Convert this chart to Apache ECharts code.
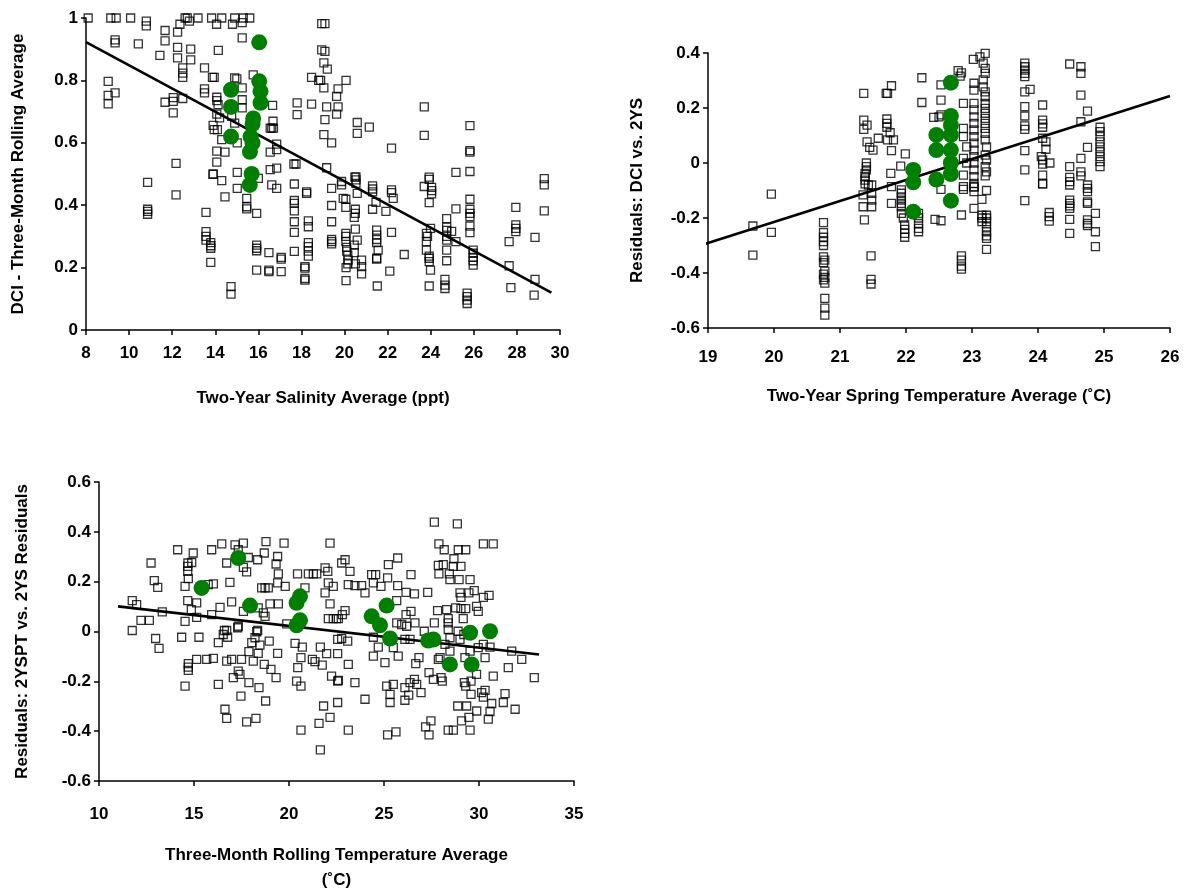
<!DOCTYPE html>
<html><head><meta charset="utf-8">
<script src="https://cdn.jsdelivr.net/npm/echarts@6/dist/echarts.min.js"></script>
<style>html,body{margin:0;padding:0;background:#fff}#c{width:1185px;height:894px}</style>
</head><body><div id="c"></div>
<script>
// ---------- Panel 1: DCI vs two-year salinity ----------
const p1Squares = [[8.1,1],[9.15,1],[9.4,1],[10.07,1],[10.8,0.99],[10.8,0.975],[12.6,1],[12.7,1],[13.2,1],[13.83,1],[14.3,1],[14.9,1],[15.3,1],[15.6,1],
[12.36,0.98],[12.8,0.99],[14.06,0.98],[14.8,0.98],[15.25,0.985],[11.67,0.96],[12.25,0.955],[9.35,0.93],[9.35,0.92],[10.43,0.917],[11.67,0.927],[15.25,0.936],
[12.25,0.906],[12.86,0.9],[11.43,0.88],[12.25,0.872],[12.86,0.866],[14.14,0.896],[13.5,0.84],[12.49,0.84],[12.49,0.823],[12.49,0.81],[13.87,0.81],[13.95,0.81],[14.9,0.808],[15.0,0.805],[15.76,0.818],[18.47,0.81],[18.8,0.8],[9.03,0.797],[9.35,0.76],[9.03,0.752],[9.03,0.725],[15.25,0.776],[13.5,0.773],[13.5,0.76],[11.67,0.73],[12.05,0.745],[12.05,0.733],[12.49,0.742],[14.07,0.746],[14.07,0.735],[14.13,0.722],[15.25,0.738],[15.25,0.712],[16.66,0.72],[17.8,0.728],[18.47,0.724],[17.8,0.69],[12.05,0.696],[14.07,0.692],[14.2,0.68],[14.76,0.685],[13.9,0.656],[13.95,0.642],[14.1,0.642],[14.9,0.663],[14.3,0.61],[15.02,0.6],[16.68,0.669],[16.55,0.647],[16.62,0.647],[16.7,0.647],[16.85,0.596],[16.85,0.578],[16.55,0.57],[14.07,0.573],[14.45,0.57],[14.07,0.538],[12.18,0.534],[13.9,0.5],[15.02,0.505],[16.55,0.514],[16.85,0.519],[17.65,0.532],[17.75,0.532],
[18.94,0.982],[19.09,0.982],[18.94,0.898],[19.09,0.893],[19.04,0.856],[19.2,0.836],[18.89,0.8],[20.07,0.8],[19.04,0.776],[19.7,0.773],[19.63,0.749],[19.17,0.715],[19.7,0.715],[19.63,0.692],[19.09,0.674],[20.59,0.665],[21.15,0.65],[20.59,0.63],[19.04,0.626],[19.4,0.6],[22.18,0.583],[23.7,0.715],[23.7,0.624],[25.82,0.655],[25.82,0.575],[25.82,0.57],[19.17,0.52],[20.48,0.49],[23.93,0.49],[25.17,0.505],[25.82,0.508],[29.27,0.485],[29.27,0.465],
[10.86,0.473],[10.86,0.387],[10.86,0.38],[10.86,0.371],[12.18,0.433],[13.9,0.499],[14.3,0.479],[15.02,0.454],[14.45,0.427],[15.46,0.422],[15.46,0.395],[15.46,0.388],[15.92,0.374],[16.0,0.486],[16.62,0.465],[16.85,0.454],[17.67,0.468],[18.24,0.443],[18.24,0.438],[17.67,0.415],[17.67,0.406],[17.67,0.382],[17.67,0.347],[17.67,0.313],[18.32,0.35],[18.32,0.331],[13.57,0.377],[13.57,0.315],[13.57,0.3],[13.57,0.288],[13.79,0.28],[13.79,0.27],[13.79,0.262],[13.79,0.217],[14.73,0.139],[14.73,0.115],[15.92,0.272],[15.92,0.262],[15.92,0.254],[16.49,0.248],[17.06,0.233],[17.06,0.227],[17.67,0.252],[18.32,0.28],[18.32,0.267],[18.32,0.253],[18.32,0.237],[15.92,0.192],[16.49,0.192],[16.49,0.187],[17.06,0.187],[18.16,0.203],[18.16,0.198],[18.16,0.165],[18.16,0.16],
[20.53,0.491],[20.53,0.481],[20.53,0.47],[19.86,0.476],[19.86,0.465],[19.4,0.454],[20.59,0.438],[19.94,0.422],[20.06,0.419],[19.4,0.399],[20.06,0.393],[20.5,0.387],[20.5,0.374],[20.45,0.361],[19.4,0.347],[21.3,0.462],[21.3,0.452],[21.3,0.443],[21.46,0.409],[21.3,0.387],[22.18,0.449],[22.18,0.44],[22.26,0.422],[21.92,0.38],[23.93,0.483],[23.7,0.46],[24.04,0.457],[24.04,0.447],[24.04,0.436],[23.93,0.408],[25.82,0.419],[25.17,0.388],[25.82,0.387],[25.82,0.374],[25.82,0.363],[24.74,0.357],[25.82,0.333],[25.82,0.312],[27.95,0.393],[27.95,0.337],[27.95,0.326],[27.95,0.315],[29.27,0.382],[28.84,0.297],[27.64,0.283],[20.06,0.31],[20.06,0.3],[20.06,0.283],[20.5,0.323],[20.59,0.288],[19.4,0.29],[19.4,0.283],[19.4,0.276],[20.1,0.265],[20.1,0.253],[20.15,0.24],[20.17,0.224],[20.15,0.212],[20.45,0.272],[20.45,0.248],[20.79,0.224],[20.79,0.203],[20.79,0.18],[20.5,0.212],[20.07,0.2],[20.07,0.158],[21.49,0.32],[21.49,0.304],[21.49,0.29],[21.49,0.28],[21.56,0.256],[21.49,0.23],[21.49,0.227],[21.52,0.141],[22.18,0.313],[22.77,0.242],[22.1,0.189],[23.8,0.31],[23.85,0.3],[23.8,0.283],[23.8,0.256],[23.99,0.326],[23.93,0.237],[23.93,0.23],[23.93,0.219],[23.99,0.192],[23.93,0.141],[24.74,0.33],[24.74,0.319],[24.74,0.3],[24.74,0.288],[24.97,0.316],[24.74,0.256],[24.74,0.222],[25.17,0.283],[24.66,0.162],[24.66,0.144],[24.66,0.133],[25.97,0.256],[25.97,0.246],[25.97,0.233],[25.97,0.222],[25.97,0.208],[25.69,0.118],[25.69,0.107],[25.69,0.096],[25.69,0.085],[27.64,0.206],[27.72,0.136],[28.84,0.162],[28.8,0.112]];
const p1Green = [[16.04,0.922],[14.73,0.77],[16.04,0.797],[16.1,0.765],[16.1,0.728],[14.73,0.715],[15.76,0.678],[15.73,0.66],[15.64,0.62],[14.73,0.62],[15.73,0.6],[15.61,0.571],[15.69,0.5],[15.6,0.465]];
const p1Trend = [[8,0.923],[29.6,0.12]];

// ---------- Panel 2: residuals vs spring temperature ----------
const p2Squares = [[21.36,0.253],[21.7,0.253],[21.72,0.253],[21.78,0.281],[21.36,0.156],[21.36,0.122],[21.41,0.138],[21.71,0.16],[21.71,0.144],[21.71,0.13],[21.76,0.11],[21.41,0.077],[21.45,0.057],[21.5,0.047],[21.58,0.09],[21.72,0.084],[21.81,0.084],[21.78,0.045],[21.99,0.033],[21.4,0],[21.4,-0.013],[21.4,-0.025],[21.38,-0.038],[21.38,-0.05],[21.38,-0.062],[21.38,-0.076],[21.43,-0.08],[21.48,-0.08],[21.77,-0.038],[21.92,-0.011],
[19.96,-0.113],[19.68,-0.229],[19.96,-0.252],[19.68,-0.335],[20.75,-0.217],[20.75,-0.253],[20.75,-0.27],[20.75,-0.286],[20.75,-0.3],[20.75,-0.341],[20.77,-0.353],[20.75,-0.362],[20.77,-0.393],[20.75,-0.404],[20.77,-0.416],[20.75,-0.425],[20.77,-0.437],[20.77,-0.492],[20.77,-0.528],[20.77,-0.553],[21.35,-0.116],[21.48,-0.11],[21.48,-0.135],[21.35,-0.159],[21.48,-0.159],[21.37,-0.207],[21.47,-0.338],[21.47,-0.423],[21.47,-0.44],[21.78,-0.086],[21.78,-0.147],[21.93,-0.098],[21.93,-0.11],[21.93,-0.123],[21.93,-0.135],[21.93,-0.147],[21.93,-0.159],[21.93,-0.183],[21.96,-0.2],[21.98,-0.225],[21.98,-0.241],[21.98,-0.256],[21.98,-0.27],
[22.19,-0.183],[22.19,-0.2],[22.19,-0.22],[22.19,-0.238],[22.19,-0.25],[22.53,-0.096],[22.44,-0.205],[22.53,-0.21],[22.87,-0.096],[22.84,-0.189],[23.03,-0.074],[23.03,-0.088],[23.03,-0.104],[23.22,-0.1],[23.15,-0.132],[23.03,-0.165],[23.15,-0.19],[23.15,-0.2],[23.15,-0.213],[23.22,-0.19],[23.22,-0.2],[23.22,-0.213],[23.22,-0.232],[23.22,-0.25],[23.22,-0.265],[23.22,-0.274],[23.22,-0.314],[22.84,-0.338],[22.84,-0.353],[22.84,-0.375],[22.84,-0.386],[23.8,-0.137],[24.07,-0.076],[24.17,-0.18],[24.17,-0.195],[24.17,-0.211],[24.48,-0.08],[24.48,-0.135],[24.48,-0.147],[24.48,-0.156],[24.48,-0.165],[24.48,-0.205],[24.48,-0.256],[24.75,-0.092],[24.75,-0.104],[24.75,-0.141],[24.75,-0.147],[24.75,-0.207],[24.75,-0.22],[24.75,-0.228],[24.87,-0.183],[24.87,-0.25],[24.87,-0.304],
[22.24,0.31],[22.24,0.22],[22.53,0.284],[22.53,0.229],[22.5,0.168],[22.53,0.175],[22.42,0.166],[22.79,0.336],[22.84,0.328],[22.82,0.316],[23.02,0.377],[23.12,0.386],[23.2,0.399],[23.17,0.363],[23.2,0.344],[23.2,0.326],[23.17,0.302],[23.17,0.277],[23.2,0.259],[23.2,0.241],[23.2,0.217],[23.2,0.199],[23.2,0.181],[23.2,0.162],[23.2,0.144],[23.2,0.126],[23.2,0.108],[23.03,0.29],[23.03,0.265],[23.03,0.217],[23.03,0.193],[23.03,0.168],[23.03,0.144],[23.03,0.12],[23.03,0.096],[23.03,0.072],[23.03,0.047],[23.03,0.023],[23.03,0],[23.03,-0.025],[23.03,-0.05],[23.03,-0.086],[22.87,0.217],[22.87,0.126],[22.87,0.096],[22.92,0.059],[22.87,0.017],[22.92,0],[22.87,-0.044],[22.87,-0.086],[23.2,0.084],[23.22,0.059],[23.2,0.029],[23.22,0.011],[23.2,-0.013],[23.22,-0.032],[23.2,-0.047],[23.8,0.363],[23.8,0.35],[23.8,0.338],[23.8,0.326],[23.8,0.314],[23.8,0.259],[23.88,0.268],[23.8,0.205],[23.8,0.171],[23.8,0.135],[23.8,0.122],[23.8,0.045],[23.8,-0.025],[24.07,0.211],[24.07,0.156],[24.07,0.142],[24.07,0.13],[24.07,0.09],[24.12,0.077],[24.12,0.05],[24.05,0.023],[24.07,0.011],[24.07,-0.004],[24.18,0],[24.07,-0.044],[24.07,-0.076],[24.48,0.36],[24.65,0.35],[24.65,0.326],[24.65,0.247],[24.75,0.189],[24.65,0.15],[24.75,0.057],[24.65,0.017],[24.48,-0.013],[24.48,-0.052],[24.48,-0.068],[24.65,-0.032],[24.65,-0.047],[24.75,-0.08],[24.94,0.13],[24.94,0.114],[24.94,0.096],[24.94,0.077],[24.94,0.059],[24.94,0.041],[24.94,0.023],[24.94,0.005],[24.94,-0.013]];
const p2Green = [[22.68,0.292],[22.68,0.171],[22.68,0.138],[22.46,0.102],[22.68,0.102],[22.46,0.047],[22.68,0.047],[22.68,0.0],[22.11,-0.025],[22.68,-0.04],[22.46,-0.06],[22.11,-0.07],[22.68,-0.137],[22.11,-0.177]];
const p2Trend = [[18.88,-0.3],[26,0.244]];

// ---------- Panel 3: residuals vs three-month temperature ----------
const p3Squares = [[14.14,0.328],[12.74,0.275],[12.91,0.204],[13.09,0.177],[11.75,0.124],[11.98,0.108],[12.21,0.045],[12.65,0.045],[11.75,0.004],[13.33,0.079],[14.96,0.315],[15.93,0.328],[16.46,0.352],[17.16,0.348],[17.6,0.355],[18.79,0.361],[19.74,0.355],[22.16,0.355],[14.68,0.275],[14.88,0.277],[14.67,0.261],[14.67,0.241],[14.7,0.212],[14.53,0.181],[16.72,0.275],[17.33,0.328],[17.86,0.297],[17.6,0.257],[17.77,0.239],[18.35,0.288],[18.7,0.315],[19.32,0.271],[19.4,0.301],[19.44,0.231],[20.45,0.231],[21.02,0.231],[21.28,0.231],[21.46,0.231],[21.9,0.255],[22.04,0.241],[15.75,0.188],[16.02,0.191],[16.89,0.197],[18.56,0.175],[18.74,0.175],[18.91,0.175],[19.4,0.195],[19.8,0.181],[20.84,0.175],[22.07,0.195],[22.33,0.181],[21.9,0.155],[22.16,0.111],[14.67,0.124],[15.14,0.115],[16.98,0.119],[16.37,0.097],[14.86,0.088],[15.14,0.057],[15.93,0.068],[17.6,0.081],[18.38,0.095],[19.0,0.111],[19.44,0.111],[18.65,0.075],[18.74,0.061],[14.53,0.041],[17.33,0.021],[18.35,0.004],[16.6,0.004],[22.07,0.052],[22.33,0.052],[22.5,0.052],[19.88,0.031],
[27.65,0.439],[28.86,0.432],[27.89,0.352],[28.17,0.328],[28.91,0.328],[29.3,0.328],[30.23,0.352],[30.75,0.352],[28.68,0.292],[27.86,0.265],[28.12,0.268],[28.65,0.261],[29.05,0.261],[27.89,0.231],[28.44,0.231],[28.47,0.208],[28.95,0.208],[29.53,0.208],[22.95,0.288],[22.77,0.275],[23.21,0.241],[25.23,0.268],[25.72,0.295],[24.35,0.228],[24.56,0.228],[25.19,0.215],[26.42,0.228],[23.12,0.188],[23.47,0.184],[23.82,0.184],[24.44,0.195],[24.84,0.181],[25.72,0.184],[24.0,0.155],[26.16,0.157],[26.6,0.151],[27.3,0.157],[29.0,0.155],[29.05,0.137],[29.47,0.155],[29.75,0.164],[30.23,0.137],[30.53,0.145],[25.67,0.124],[22.95,0.084],[22.81,0.068],[22.6,0.052],[26.42,0.081],[26.16,0.068],[27.82,0.084],[28.3,0.088],[28.77,0.095],[29.05,0.092],[29.3,0.092],[29.87,0.101],[29.96,0.081],[28.38,0.052],[28.38,0.035],[29.17,0.052],[25.67,0.035],[25.93,0.028],[26.19,0.021],[26.63,0.035],[27.65,0.035],[27.12,0.001],
[12.98,-0.028],[13.16,-0.068],[14.35,-0.023],[15.26,-0.023],[16.28,-0.045],[16.54,-0.012],[16.77,-0.023],[16.72,0.004],[17.3,0.015],[18.04,-0.045],[18.21,-0.025],[18.3,-0.001],[18.47,-0.055],[18.96,-0.039],[17.89,-0.081],[18.38,-0.088],[19.4,-0.088],[14.7,-0.129],[14.7,-0.143],[14.7,-0.156],[15.14,-0.112],[15.67,-0.112],[16.02,-0.108],[16.72,-0.119],[16.98,-0.112],[17.5,-0.112],[18.12,-0.119],[18.7,-0.132],[19.05,-0.152],[19.32,-0.185],[17.33,-0.159],[17.42,-0.172],[17.07,-0.185],[17.89,-0.205],[18.42,-0.225],[14.53,-0.219],[16.28,-0.212],[17.47,-0.259],[18.77,-0.279],[16.63,-0.312],[16.72,-0.349],[17.77,-0.363],[18.26,-0.349],[20.32,-0.048],[20.7,-0.063],[20.63,-0.105],[21.23,-0.112],[21.37,-0.121],[20.46,-0.145],[20.4,-0.199],[20.63,-0.219],[21.65,-0.063],[21.98,-0.089],[21.75,-0.135],[22.24,-0.179],[22.56,-0.199],[22.56,-0.032],[22.56,-0.089],[22.56,-0.285],[21.82,-0.299],[22.16,-0.345],[21.58,-0.369],[20.63,-0.396],[21.65,-0.475],
[22.77,-0.028],[23.09,-0.039],[23.12,-0.132],[22.6,-0.196],[23.47,-0.205],[24.0,-0.272],[23.12,-0.396],[24.44,-0.023],[24.7,-0.063],[24.44,-0.099],[25.05,-0.125],[25.75,-0.099],[25.49,-0.065],[25.14,-0.219],[25.49,-0.212],[25.32,-0.252],[25.32,-0.285],[25.19,-0.415],[25.63,-0.403],[26.1,-0.032],[26.37,-0.032],[26.1,-0.225],[26.37,-0.205],[26.6,-0.192],[26.72,-0.212],[26.1,-0.276],[26.3,-0.255],[26.95,-0.245],[26.67,-0.129],[26.84,-0.105],[27.37,-0.165],[27.6,-0.192],[28.07,-0.199],[27.86,-0.112],[28.0,-0.185],[27.47,-0.359],[27.19,-0.383],[27.37,-0.415],[28.38,-0.396],[28.65,-0.396],[29.08,-0.359],[29.53,-0.396],[28.88,-0.299],[29.35,-0.299],[29.88,-0.319],[29.47,-0.345],[29.23,-0.205],[29.3,-0.219],[29.58,-0.199],[29.58,-0.252],[30.14,-0.245],[30.23,-0.263],[30.32,-0.236],[30.67,-0.289],[30.58,-0.321],[30.49,-0.352],[31.37,-0.249],[31.28,-0.285],[31.9,-0.312],[30.75,-0.179],[29.87,-0.172],[31.54,-0.145],[32.25,-0.112],[31.72,-0.079],[32.91,-0.185],[28.47,-0.079],[29.26,-0.105],[29.53,-0.079],[29.96,-0.065],[30.32,-0.105],[30.23,-0.052],[30.58,-0.063],[27.95,-0.105],[28.21,-0.052],[28.47,-0.025],[28.38,0.008],[29.0,-0.032],[28.9,0.001],[29.2,-0.012]];
const p3Green = [[15.4,0.175],[17.33,0.295],[17.95,0.104],[20.58,0.141],[20.4,0.115],[20.58,0.045],[20.4,0.025],[24.35,0.061],[24.79,0.025],[25.14,0.104],[25.32,-0.028],[27.33,-0.036],[27.6,-0.032],[28.47,-0.132],[29.53,-0.005],[29.61,-0.132],[30.58,0.001]];
const p3Trend = [[11,0.101],[33.16,-0.092]];

// ---------- axis texts ----------
const xTitles = ['Two-Year Salinity Average (ppt)', 'Two-Year Spring Temperature Average (˚C)', 'Three-Month Rolling Temperature Average\n(˚C)'];
const yTitles = ['DCI - Three-Month Rolling Average', 'Residuals: DCI vs. 2YS', 'Residuals: 2YSPT vs. 2YS Residuals'];

const FONT = '"Liberation Sans", Arial, sans-serif';
const axisCommon = {
  axisLine: {show: true, onZero: false, lineStyle: {color: '#000', width: 1.5}},
  axisTick: {show: true, length: 5, lineStyle: {color: '#000', width: 1.5}},
  splitLine: {show: false},
  axisLabel: {color: '#000', fontWeight: 'bold', fontSize: 17, fontFamily: FONT},
  nameTextStyle: {color: '#000', fontWeight: 'bold', fontSize: 17, fontFamily: FONT, lineHeight: 25},
  nameLocation: 'middle'
};
function xa(i, min, max, interval, gap, margin) {
  return Object.assign({}, axisCommon, {type: 'value', gridIndex: i, min, max, interval, name: xTitles[i], nameGap: gap,
    axisLabel: Object.assign({}, axisCommon.axisLabel, {margin: margin})});
}
function ya(i, min, max, interval, gap) {
  return Object.assign({}, axisCommon, {type: 'value', gridIndex: i, min, max, interval, name: yTitles[i], nameGap: gap,
    axisLabel: Object.assign({}, axisCommon.axisLabel, {margin: 8})});
}
function sq(i, data) {
  return {type: 'scatter', xAxisIndex: i, yAxisIndex: i, data, symbol: 'rect', symbolSize: 8, z: 2,
    itemStyle: {color: 'rgba(0,0,0,0)', borderColor: '#000', borderWidth: 1.3}, silent: true};
}
function gr(i, data) {
  return {type: 'scatter', xAxisIndex: i, yAxisIndex: i, data, symbol: 'circle', symbolSize: 16, z: 4,
    itemStyle: {color: '#008000', opacity: 1}, silent: true};
}
function tr(i, data) {
  return {type: 'line', xAxisIndex: i, yAxisIndex: i, data, symbol: 'none', z: 3, clip: false,
    lineStyle: {color: '#000', width: 2.6}, silent: true};
}

const chart = echarts.init(document.getElementById('c'), null, {renderer: 'canvas'});
chart.setOption({
  animation: false,
  backgroundColor: '#fff',
  grid: [
    {left: 86, top: 18, width: 474, height: 312},
    {left: 708, top: 53, width: 462, height: 275},
    {left: 99, top: 482, width: 475, height: 301}
  ],
  xAxis: [xa(0, 8, 30, 2, 56, 15), xa(1, 19, 26, 1, 56, 21), xa(2, 10, 35, 5, 62, 25)],
  yAxis: [ya(0, 0, 1, 0.2, 55), ya(1, -0.6, 0.4, 0.2, 58), ya(2, -0.6, 0.6, 0.2, 64)],
  series: [
    sq(0, p1Squares), tr(0, p1Trend), gr(0, p1Green),
    sq(1, p2Squares), tr(1, p2Trend), gr(1, p2Green),
    sq(2, p3Squares), tr(2, p3Trend), gr(2, p3Green)
  ]
});
</script></body></html>
